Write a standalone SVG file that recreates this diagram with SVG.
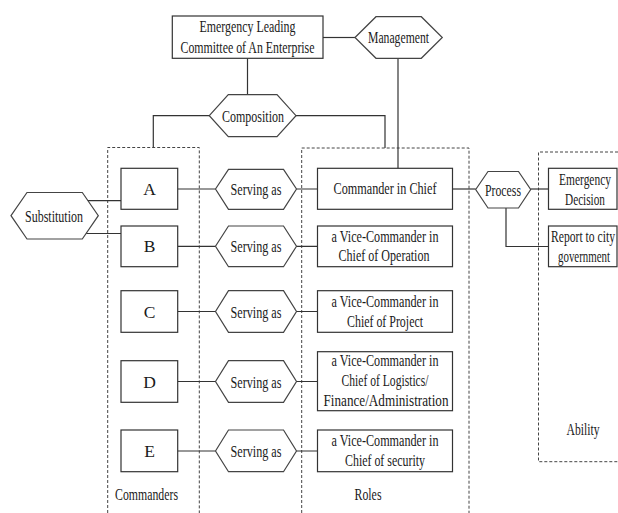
<svg xmlns="http://www.w3.org/2000/svg" width="618" height="513" viewBox="0 0 618 513">
<style>
.box{fill:#fff;stroke:#333;stroke-width:1.2}
.hex{fill:#fff;stroke:#444;stroke-width:1.2}
.dash{fill:none;stroke:#444;stroke-width:1;stroke-dasharray:3 2}
.ln{fill:none;stroke:#333;stroke-width:1.2}
text{font-family:"Liberation Serif","Times New Roman",serif;font-size:17.5px;fill:#1a1a1a;text-anchor:middle}
</style>
<rect width="618" height="513" fill="#fff"/>
<g id="groups">
<path class="dash" d="M107.7,513 V147.5 H199.3 V513"/>
<path class="dash" d="M301.7,513 V148 H469 V513"/>
<path class="dash" d="M618,152 H538.5 V461.7 H618"/>
<text x="146.5" y="500" textLength="63" lengthAdjust="spacingAndGlyphs">Commanders</text>
<text x="368" y="500" textLength="27" lengthAdjust="spacingAndGlyphs">Roles</text>
<text x="583" y="435" textLength="33" lengthAdjust="spacingAndGlyphs">Ability</text>
</g>
<g id="connectors">
<path class="ln" d="M323,37.5 H355"/>
<path class="ln" d="M247.5,58.3 V94.7"/>
<path class="ln" d="M398,58.3 V168.3"/>
<path class="ln" d="M209.3,115.7 H153.3 V147.5"/>
<path class="ln" d="M296,115.7 H385 V148"/>
<path class="ln" d="M85,200.7 H121"/>
<path class="ln" d="M84,233.5 H121"/>
<path class="ln" d="M177.7,189 H215.5 M296.5,189 H317.5"/>
<path class="ln" d="M177.7,246.3 H215.5 M296.5,246.3 H317.5"/>
<path class="ln" d="M177.7,311.5 H215.5 M296.5,311.5 H317.5"/>
<path class="ln" d="M177.7,381.5 H215.5 M296.5,381.5 H317.5"/>
<path class="ln" d="M177.7,451 H215.5 M296.5,451 H317.5"/>
<path class="ln" d="M452.5,189 H475.7"/>
<path class="ln" d="M530.7,189 H548.5"/>
<path class="ln" d="M506,207.5 V246.5 H548.5"/>
</g>
<g id="committee">
<rect class="box" x="172.3" y="16" width="150.7" height="42.3"/>
<text x="247.5" y="31.5" textLength="96" lengthAdjust="spacingAndGlyphs">Emergency Leading</text>
<text x="247.5" y="52.5" textLength="134" lengthAdjust="spacingAndGlyphs">Committee of An Enterprise</text>
</g>
<g id="management">
<polygon class="hex" points="355,37.5 376,16.7 421.3,16.7 442.3,37.5 421.3,58.3 376,58.3"/>
<text x="398.5" y="43.3" textLength="61" lengthAdjust="spacingAndGlyphs">Management</text>
</g>
<g id="composition">
<polygon class="hex" points="209.3,115.7 228.3,94.7 277,94.7 296,115.7 277,136.7 228.3,136.7"/>
<text x="253" y="121.7" textLength="62" lengthAdjust="spacingAndGlyphs">Composition</text>
</g>
<g id="substitution">
<polygon class="hex" points="11,215.7 27,192.5 82.3,192.5 98.3,215.7 82.3,239 27,239"/>
<text x="54" y="221.7" textLength="58" lengthAdjust="spacingAndGlyphs">Substitution</text>
</g>
<g id="cmdA"><rect class="box" x="121" y="168.3" width="56.7" height="41"/><text x="149.5" y="194.5">A</text></g>
<g id="cmdB"><rect class="box" x="121" y="226" width="56.7" height="40.7"/><text x="149.5" y="252">B</text></g>
<g id="cmdC"><rect class="box" x="121" y="290.7" width="56.7" height="41.6"/><text x="149.5" y="317.5">C</text></g>
<g id="cmdD"><rect class="box" x="121" y="360.7" width="56.7" height="41.6"/><text x="149.5" y="387.5">D</text></g>
<g id="cmdE"><rect class="box" x="121" y="430" width="56.7" height="41.7"/><text x="149.5" y="457">E</text></g>
<g id="servA"><polygon class="hex" points="215.5,189 228.5,169.3 283.5,169.3 296.5,189 283.5,209.3 228.5,209.3"/><text x="256" y="195" textLength="51" lengthAdjust="spacingAndGlyphs">Serving as</text></g>
<g id="servB"><polygon class="hex" points="215.5,246.3 228.5,226 283.5,226 296.5,246.3 283.5,266.7 228.5,266.7"/><text x="256" y="252.3" textLength="51" lengthAdjust="spacingAndGlyphs">Serving as</text></g>
<g id="servC"><polygon class="hex" points="215.5,311.5 228.5,290.7 283.5,290.7 296.5,311.5 283.5,332.3 228.5,332.3"/><text x="256" y="317.5" textLength="51" lengthAdjust="spacingAndGlyphs">Serving as</text></g>
<g id="servD"><polygon class="hex" points="215.5,381.5 228.5,360.7 283.5,360.7 296.5,381.5 283.5,402.3 228.5,402.3"/><text x="256" y="387.5" textLength="51" lengthAdjust="spacingAndGlyphs">Serving as</text></g>
<g id="servE"><polygon class="hex" points="215.5,451 228.5,430 283.5,430 296.5,451 283.5,471.7 228.5,471.7"/><text x="256" y="457" textLength="51" lengthAdjust="spacingAndGlyphs">Serving as</text></g>
<g id="roleChief"><rect class="box" x="317.5" y="168.3" width="135" height="41"/><text x="385" y="194" textLength="103" lengthAdjust="spacingAndGlyphs">Commander in Chief</text></g>
<g id="roleOperation"><rect class="box" x="317.5" y="226" width="135" height="40.7"/>
<text x="385" y="241.5" textLength="107" lengthAdjust="spacingAndGlyphs">a Vice-Commander in</text>
<text x="384" y="261" textLength="91" lengthAdjust="spacingAndGlyphs">Chief of Operation</text></g>
<g id="roleProject"><rect class="box" x="317.5" y="290.7" width="135" height="41.6"/>
<text x="385" y="306.5" textLength="107" lengthAdjust="spacingAndGlyphs">a Vice-Commander in</text>
<text x="385" y="326.5" textLength="76" lengthAdjust="spacingAndGlyphs">Chief of Project</text></g>
<g id="roleLogistics"><rect class="box" x="317.5" y="351.7" width="135" height="59"/>
<text x="385" y="366" textLength="107" lengthAdjust="spacingAndGlyphs">a Vice-Commander in</text>
<text x="385" y="386" textLength="87" lengthAdjust="spacingAndGlyphs">Chief of Logistics/</text>
<text x="386" y="406" textLength="125" lengthAdjust="spacingAndGlyphs">Finance/Administration</text></g>
<g id="roleSecurity"><rect class="box" x="317.5" y="430" width="135" height="41.7"/>
<text x="385" y="446" textLength="107" lengthAdjust="spacingAndGlyphs">a Vice-Commander in</text>
<text x="385" y="466" textLength="80" lengthAdjust="spacingAndGlyphs">Chief of security</text></g>
<g id="process"><polygon class="hex" points="475.7,189.5 488,171.5 518.5,171.5 530.7,189.5 518.5,208 488,208"/><text x="503" y="195.5" textLength="36" lengthAdjust="spacingAndGlyphs">Process</text></g>
<g id="decision"><rect class="box" x="548.5" y="168.3" width="68.5" height="41"/>
<text transform="translate(585,184.5) scale(0.65,1)" textLength="80" lengthAdjust="spacingAndGlyphs">Emergency</text>
<text transform="translate(585,204.5) scale(0.65,1)" textLength="61.5" lengthAdjust="spacingAndGlyphs">Decision</text></g>
<g id="report"><rect class="box" x="548.5" y="226" width="68.5" height="40.7"/>
<text transform="translate(583,241.5) scale(0.65,1)" textLength="98.5" lengthAdjust="spacingAndGlyphs">Report to city</text>
<text transform="translate(584,261.5) scale(0.65,1)" textLength="80" lengthAdjust="spacingAndGlyphs">government</text></g>
</svg>
